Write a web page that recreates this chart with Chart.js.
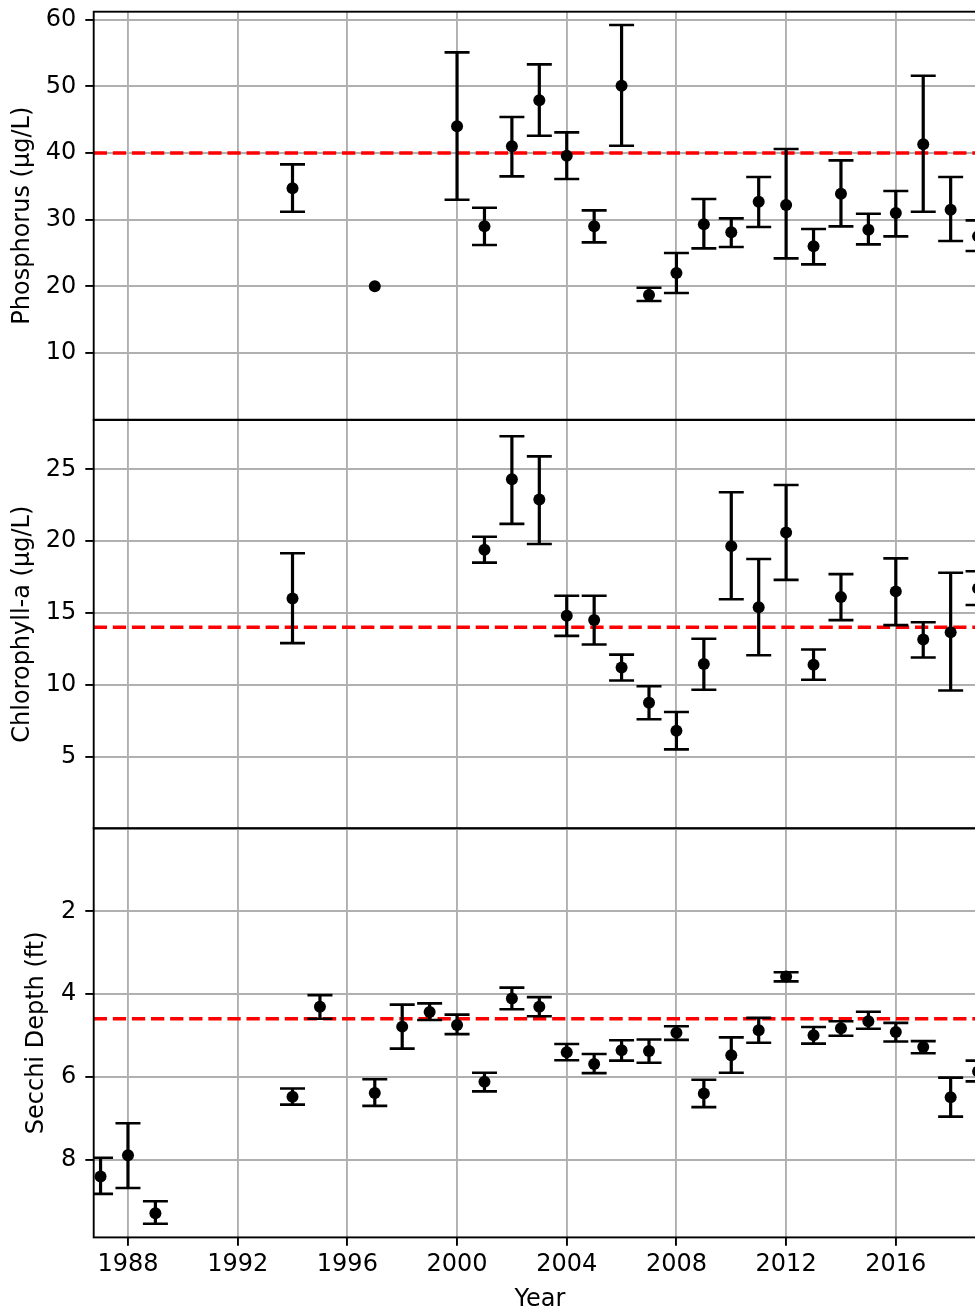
<!DOCTYPE html>
<html>
<head>
<meta charset="utf-8">
<script src="https://cdn.jsdelivr.net/npm/chart.js@4.4.0/dist/chart.umd.min.js"></script>
<style>
  html, body { margin: 0; padding: 0; background: #fff; width: 975px; height: 1307px; overflow: hidden; position: relative; }
  canvas { position: absolute; left: 0; }
</style>
</head>
<body>
<canvas id="phos" width="1000" height="440" style="top:0px"></canvas>
<canvas id="chla" width="1000" height="440" style="top:410px"></canvas>
<canvas id="secchi" width="1000" height="502" style="top:818px"></canvas>
<script>
// Shared x axis (years)
const X_MIN = 1986.75;
const X_MAX = 2019.3;
const yearTicks = [1988, 1992, 1996, 2000, 2004, 2008, 2012, 2016];

// Phosphorus (µg/L): mean with error bar ends
const phosYears = [1994, 1997, 2000, 2001, 2002, 2003, 2004, 2005, 2006, 2007, 2008,
  2009, 2010, 2011, 2012, 2013, 2014, 2015, 2016, 2017, 2018, 2019];
const phosMean = [34.7, 20.0, 44.0, 29.0, 41.0, 47.9, 39.6, 29.0, 50.1, 18.7, 22.0,
  29.3, 28.1, 32.7, 32.2, 26.0, 33.9, 28.5, 31.0, 41.3, 31.5, 27.5];
const phosLow = [31.2, null, 33.0, 26.2, 36.5, 42.6, 36.1, 26.6, 41.1, 17.8, 19.0,
  25.7, 25.9, 28.9, 24.2, 23.3, 29.0, 26.3, 27.5, 31.2, 26.8, 25.3];
const phosHigh = [38.3, null, 55.1, 31.8, 45.4, 53.3, 43.1, 31.4, 59.2, 19.8, 25.0,
  33.1, 30.2, 36.4, 40.6, 28.6, 38.9, 30.9, 34.3, 51.6, 36.4, 29.9];
const phosTicks = [10, 20, 30, 40, 50, 60];
const PHOS_LIMIT = 40;

// Chlorophyll-a (µg/L)
const chlaYears = [1994, 2001, 2002, 2003, 2004, 2005, 2006, 2007, 2008, 2009, 2010,
  2011, 2012, 2013, 2014, 2016, 2017, 2018, 2019];
const chlaMean = [16.0, 19.4, 24.3, 22.9, 14.8, 14.5, 11.2, 8.75, 6.8, 11.45, 19.65,
  15.4, 20.6, 11.4, 16.1, 16.5, 13.15, 13.65, 16.7];
const chlaLow = [12.9, 18.5, 21.2, 19.8, 13.4, 12.8, 10.3, 7.6, 5.5, 9.65, 15.95,
  12.05, 17.3, 10.35, 14.5, 14.15, 11.9, 9.6, 15.55];
const chlaHigh = [19.15, 20.3, 27.3, 25.9, 16.2, 16.2, 12.1, 9.9, 8.1, 13.2, 23.4,
  18.75, 23.9, 12.45, 17.7, 18.8, 14.35, 17.8, 17.9];
const chlaTicks = [5, 10, 15, 20, 25];
const CHLA_LIMIT = 14;

// Secchi depth (ft), axis drawn downward
const secchiYears = [1987, 1988, 1989, 1994, 1995, 1997, 1998, 1999, 2000, 2001, 2002,
  2003, 2004, 2005, 2006, 2007, 2008, 2009, 2010, 2011, 2012, 2013, 2014, 2015, 2016,
  2017, 2018, 2019];
const secchiMean = [8.39, 7.88, 9.28, 6.47, 4.30, 6.38, 4.78, 4.43, 4.74, 6.11, 4.10,
  4.30, 5.40, 5.68, 5.35, 5.37, 4.93, 6.39, 5.47, 4.87, 3.57, 4.99, 4.82, 4.65, 4.91,
  5.27, 6.48, 5.86];
const secchiLow = [7.94, 7.11, 8.99, 6.27, 4.02, 6.05, 4.25, 4.22, 4.49, 5.89, 3.84,
  4.07, 5.20, 5.44, 5.11, 5.09, 4.77, 6.06, 5.04, 4.57, 3.47, 4.79, 4.65, 4.42, 4.69,
  5.13, 6.01, 5.60];
const secchiHigh = [8.81, 8.67, 9.53, 6.66, 4.59, 6.69, 5.31, 4.62, 4.96, 6.34, 4.36,
  4.53, 5.59, 5.90, 5.60, 5.65, 5.10, 6.72, 5.89, 5.17, 3.69, 5.19, 5.00, 4.83, 5.14,
  5.42, 6.95, 6.10];
const secchiTicks = [2, 4, 6, 8];
const SECCHI_LIMIT = 4.59;

const FONT = "'DejaVu Sans', sans-serif";
const GRID = '#b0b0b0';

// error bars: drawn right after the limit line (dataset 1), under the markers
const errorBarPlugin = {
  id: 'errorBars',
  afterDatasetDraw(chart, args) {
    if (args.index !== 1) return;
    const ds = chart.data.datasets[0];
    const meta = chart.getDatasetMeta(0);
    const ys = chart.scales.y;
    const area = chart.chartArea;
    const ctx = chart.ctx;
    const cap = 12.5;
    ctx.save();
    ctx.beginPath();
    ctx.rect(area.left, area.top, area.right - area.left, area.bottom - area.top);
    ctx.clip();
    ctx.strokeStyle = '#000';
    meta.data.forEach((pt, i) => {
      const lo = ds.errLow[i], hi = ds.errHigh[i];
      if (lo == null || hi == null) return;
      const y1 = ys.getPixelForValue(lo);
      const y2 = ys.getPixelForValue(hi);
      ctx.lineWidth = 3.2;
      ctx.beginPath();
      ctx.moveTo(pt.x, y1);
      ctx.lineTo(pt.x, y2);
      ctx.stroke();
      ctx.lineWidth = 2.6;
      ctx.beginPath();
      ctx.moveTo(pt.x - cap, y1); ctx.lineTo(pt.x + cap, y1);
      ctx.moveTo(pt.x - cap, y2); ctx.lineTo(pt.x + cap, y2);
      ctx.stroke();
    });
    ctx.restore();
  }
};

// black box around each panel
const framePlugin = {
  id: 'frame',
  afterDraw(chart) {
    const { left, top, right, bottom } = chart.chartArea;
    const ctx = chart.ctx;
    ctx.save();
    ctx.strokeStyle = '#000';
    ctx.lineWidth = 1.9;
    ctx.strokeRect(left, top, right - left, bottom - top);
    ctx.restore();
  }
};

function makePanel(id, p) {
  const canvas = document.getElementById(id);
  return new Chart(canvas, {
    type: 'scatter',
    data: {
      datasets: [
        {
          type: 'scatter',
          data: p.years.map((yr, i) => ({ x: yr, y: p.mean[i] })),
          errLow: p.low,
          errHigh: p.high,
          pointRadius: 6,
          pointHoverRadius: 6,
          pointBackgroundColor: '#000',
          pointBorderWidth: 0,
          order: 0
        },
        {
          type: 'line',
          data: [{ x: X_MIN, y: p.limit }, { x: X_MAX, y: p.limit }],
          borderColor: '#ff0000',
          borderWidth: 3.6,
          borderDash: [13.3, 5.8],
          pointRadius: 0,
          fill: false,
          order: 1
        }
      ]
    },
    plugins: [errorBarPlugin, framePlugin],
    options: {
      responsive: false,
      animation: false,
      events: [],
      layout: { padding: { top: p.padTop, left: 0, right: 13.7, bottom: 0 } },
      plugins: { legend: { display: false }, tooltip: { enabled: false } },
      scales: {
        x: {
          type: 'linear',
          min: X_MIN,
          max: X_MAX,
          afterBuildTicks(s) { s.ticks = yearTicks.map(v => ({ value: v })); },
          afterFit(s) { s.height = p.xHeight; s.paddingLeft = 0; s.paddingRight = 0; },
          ticks: {
            display: p.showX,
            autoSkip: false,
            maxRotation: 0,
            padding: 5,
            color: '#000',
            font: { family: FONT, size: 24 },
            callback: v => String(v)
          },
          grid: {
            color: GRID,
            lineWidth: 1.9,
            drawTicks: p.showX,
            tickLength: 8.4,
            tickColor: '#000',
            tickWidth: 1.9
          },
          border: { display: false },
          title: {
            display: p.showX,
            text: 'Year',
            color: '#000',
            font: { family: FONT, size: 24 },
            padding: { top: 0, bottom: 6 }
          }
        },
        y: {
          type: 'linear',
          min: p.yMin,
          max: p.yMax,
          reverse: !!p.reverse,
          afterBuildTicks(s) { s.ticks = p.yTicks.map(v => ({ value: v })); },
          afterFit(s) { s.width = 93.7; s.paddingTop = 0; s.paddingBottom = 0; },
          ticks: {
            padding: 9,
            color: '#000',
            font: { family: FONT, size: 24 }
          },
          grid: {
            color: GRID,
            lineWidth: 1.9,
            tickLength: 8.4,
            tickColor: '#000',
            tickWidth: 1.9
          },
          border: { display: false },
          title: {
            display: true,
            text: p.title,
            color: '#000',
            font: { family: FONT, size: 24 },
            padding: { top: p.titleGap, bottom: 0 }
          }
        }
      }
    }
  });
}

makePanel('phos', {
  years: phosYears, mean: phosMean, low: phosLow, high: phosHigh, limit: PHOS_LIMIT,
  yMin: 0, yMax: 61.2, yTicks: phosTicks, title: 'Phosphorus (µg/L)', titleGap: 8.1,
  padTop: 11.7, xHeight: 20.3, showX: false
});
makePanel('chla', {
  years: chlaYears, mean: chlaMean, low: chlaLow, high: chlaHigh, limit: CHLA_LIMIT,
  yMin: 0, yMax: 28.43, yTicks: chlaTicks, title: 'Chlorophyll-a (µg/L)', titleGap: 8.1,
  padTop: 10, xHeight: 21.6, showX: false
});
makePanel('secchi', {
  years: secchiYears, mean: secchiMean, low: secchiLow, high: secchiHigh, limit: SECCHI_LIMIT,
  yMin: 0, yMax: 9.86, reverse: true, yTicks: secchiTicks, title: 'Secchi Depth (ft)', titleGap: 22.3,
  padTop: 10.3, xHeight: 82.6, showX: true
});
</script>
</body>
</html>
